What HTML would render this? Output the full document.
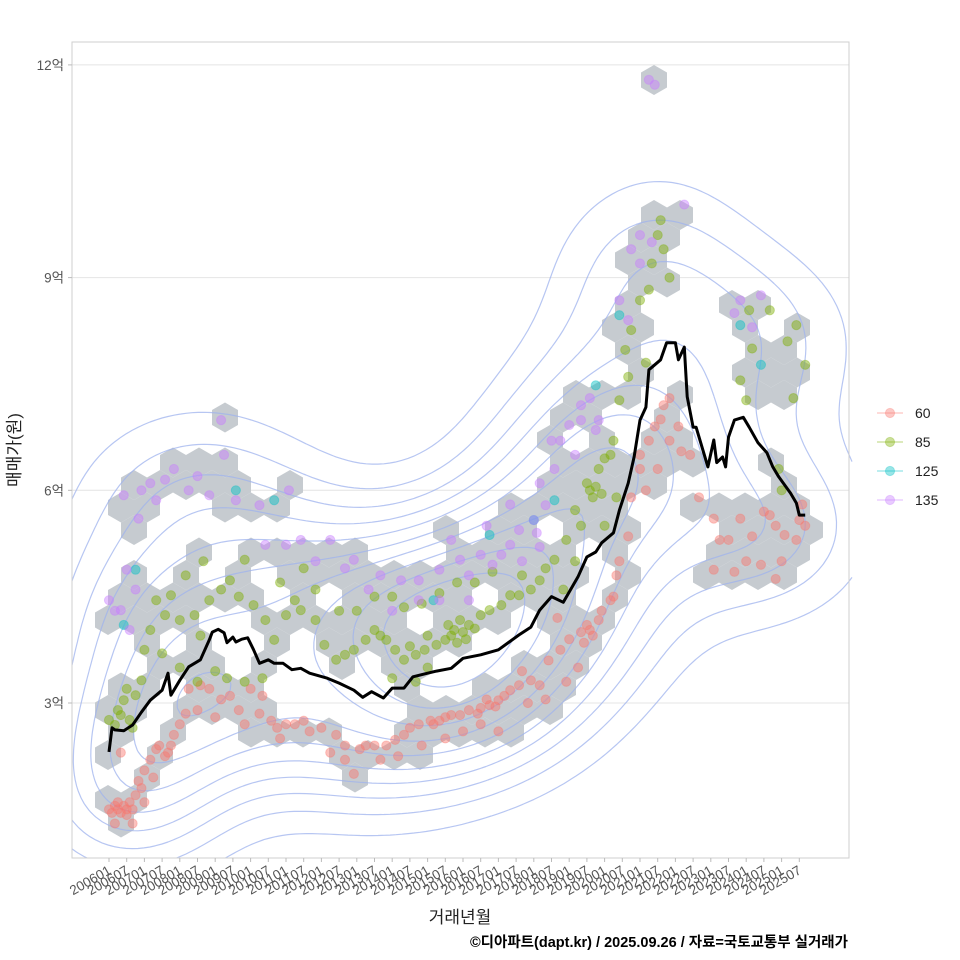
<!DOCTYPE html>
<html><head><meta charset="utf-8"><style>
html,body{margin:0;padding:0;background:#fff;}
svg{display:block;font-family:"Liberation Sans","Noto Sans CJK KR",sans-serif;}
</style></head><body>
<svg id="chart" width="960" height="960" viewBox="0 0 960 960">
<rect x="0" y="0" width="960" height="960" fill="#fff"/>
<g id="grid"></g>
<g id="hexes"></g>
<g id="contours"></g>
<g id="points"></g>
<g id="line"></g>
<rect x="72" y="42" width="777" height="816" fill="none" stroke="#cfcfcf" stroke-width="1"/>
<g id="yaxis"></g>
<g id="xaxis"></g>
<text x="20" y="450" transform="rotate(-90 20 450)" text-anchor="middle" font-size="17" fill="#222">매매가(원)</text>
<text x="460" y="923" text-anchor="middle" font-size="17" fill="#222">거래년월</text>
<text x="848" y="947" text-anchor="end" font-size="14.5" font-weight="bold" fill="#000">©디아파트(dapt.kr) / 2025.09.26 / 자료=국토교통부 실거래가</text>
<g id="legend"></g>
</svg>
<script>
// ---- data ----
const yTicks = [3, 6, 9, 12];
const yTickLabels = ["3억", "6억", "9억", "12억"];
const xTickMonths = [];
const xTickLabels = [];
for (let y = 2006; y <= 2025; y++) { xTickLabels.push(y + "01"); xTickLabels.push(y + "07"); }
for (let i = 0; i < 40; i++) xTickMonths.push(i * 6);
const lineMonths = [0,1,2,5,8,11,14,18,20,21,24,27,31,34,35,37,39,40,42,43,45,47,49,51,54,56,59,62,65,68,74,78,83,86,89,93,96,100,103,108,111,116,120,126,132,139,143,146,150,154,159,162,165,167,171,173,176,178,180,182,183,187,189,192,193,195,196,198,199,201,203,205,206,208,209,210,212,215,217,220,223,225,227,231,233,234,236];
const lineValues = [2.31,2.65,2.62,2.61,2.69,2.87,3.04,3.18,3.42,3.11,3.32,3.51,3.61,3.89,4.00,4.04,3.99,3.85,3.93,3.86,3.90,3.92,3.75,3.56,3.61,3.56,3.56,3.47,3.49,3.42,3.35,3.28,3.18,3.08,3.16,3.07,3.21,3.21,3.37,3.42,3.45,3.49,3.63,3.68,3.75,3.96,4.07,4.31,4.50,4.42,4.78,5.06,5.13,5.26,5.40,5.72,6.10,6.47,6.99,7.17,7.70,7.84,8.08,8.08,7.84,8.02,7.32,6.89,6.89,6.61,6.33,6.71,6.39,6.47,6.33,6.75,6.99,7.03,6.89,6.67,6.53,6.33,6.19,5.96,5.82,5.65,5.65];
const s60 = [[0,1.5],[1,1.45],[2,1.55],[3,1.5],[4,1.45],[5,1.55],[6,1.5],[7,1.6],[8,1.5],[3,1.6],[6,1.42],[9,1.7],[10,1.9],[12,2.05],[14,2.2],[16,2.35],[17,2.4],[19,2.25],[21,2.4],[22,2.55],[24,2.7],[26,2.85],[27,3.2],[31,3.25],[34,3.2],[38,3.05],[41,3.1],[44,2.9],[48,3.2],[51,2.85],[55,2.75],[60,2.7],[63,2.7],[66,2.75],[72,2.65],[77,2.55],[80,2.4],[83,2.0],[87,2.4],[90,2.4],[94,2.4],[97,2.48],[102,2.65],[105,2.7],[109,2.75],[112,2.75],[116,2.83],[119,2.83],[122,2.9],[126,2.93],[129,2.97],[132,3.04],[136,3.18],[139,3.25],[143,3.32],[146,3.25],[149,3.6],[153,3.75],[156,3.9],[160,4.0],[163,4.03],[166,4.17],[170,4.45],[171,4.5],[173,5.0],[177,5.9],[180,6.3],[183,6.7],[187,7.0],[188,7.2],[190,6.7],[194,6.55],[197,6.5],[205,5.6],[207,5.3],[214,5.6],[222,5.7],[224,5.65],[226,5.5],[229,5.37],[233,5.3],[234,5.58],[236,5.5],[216,5.0],[221,4.95],[205,4.88],[161,3.85],[164,3.95],[162,4.1],[167,4.3],[128,3.05],[131,2.95],[134,3.1],[125,2.85],[110,2.7],[114,2.8],[100,2.55],[85,2.35],[68,2.6],[57,2.65],[20,2.3],[15,1.95],[11,1.8],[180,6.5],[185,6.9],[200,5.9],
 [2,1.3],[8,1.3],[4,2.3],[12,1.6],[30,2.9],[36,2.8],[46,2.7],[52,3.1],[58,2.5],[75,2.3],[80,2.2],[92,2.2],[98,2.25],[106,2.4],[114,2.5],[120,2.6],[126,2.7],[132,2.6],[142,3.0],[148,3.05],[155,3.3],[159,3.5],[152,4.2],[172,4.8],[176,5.35],[182,6.0],[186,6.3],[193,6.9],[190,7.3],[210,5.3],[218,5.35],[228,5.0],[235,5.8],[212,4.85],[226,4.75],[140,3.45]];
const s85 = [[0,2.76],[2,2.69],[4,2.83],[5,3.04],[7,2.76],[9,3.11],[11,3.32],[12,3.75],[14,4.03],[16,4.45],[19,4.24],[21,4.52],[24,4.17],[29,4.24],[34,4.45],[38,4.6],[41,4.73],[46,5.02],[49,4.38],[53,4.17],[56,3.89],[60,4.24],[63,4.45],[65,4.31],[70,4.17],[73,3.82],[77,3.61],[80,3.68],[83,3.75],[87,3.89],[90,4.03],[94,3.89],[97,3.75],[100,3.61],[104,3.68],[107,3.75],[111,3.82],[114,3.89],[117,4.03],[119,4.17],[122,4.1],[126,4.24],[129,4.31],[133,4.38],[136,4.52],[139,4.52],[143,4.6],[146,4.73],[151,5.02],[155,5.3],[158,5.72],[163,6.0],[166,6.3],[170,6.5],[171,6.7],[173,7.27],[175,7.98],[177,8.26],[180,8.68],[183,8.83],[187,9.81],[188,9.4],[214,7.55],[216,7.27],[217,8.54],[224,8.54],[233,8.33],[236,7.77],[227,6.3],[116,3.95],[118,3.85],[120,4.0],[121,3.9],[124,4.05],[115,4.1],[164,5.9],[165,6.05],[167,5.95],[162,6.1],[3,2.9],[6,3.2],[8,2.65],[31,3.95],[44,4.5],[92,3.95],[102,3.8],[108,3.95],[140,4.8],[148,4.9],[168,6.45],
 [18,3.7],[24,3.5],[30,3.3],[36,3.45],[40,3.35],[46,3.3],[52,3.35],[26,4.8],[32,5.0],[58,4.7],[66,4.9],[70,4.6],[78,4.3],[84,4.3],[90,4.5],[96,4.5],[100,4.35],[106,4.4],[112,4.55],[118,4.7],[124,4.7],[130,4.85],[96,3.35],[104,3.3],[108,3.5],[154,4.6],[158,5.0],[160,5.5],[168,5.5],[172,5.9],[176,7.6],[182,7.8],[184,9.2],[186,9.6],[190,9.0],[230,8.1],[232,7.3],[218,8.0],[228,6.0]];
const s125 = [[5,4.1],[9,4.88],[43,6.0],[56,5.86],[110,4.45],[129,5.37],[144,5.58],[151,5.86],[165,7.48],[173,8.47],[214,8.33],[221,7.77]];
const s135 = [[0,4.45],[4,4.31],[6,4.88],[9,4.6],[7,4.03],[5,5.93],[11,6.0],[16,5.86],[19,6.15],[22,6.3],[27,6.0],[34,5.93],[38,6.99],[39,6.5],[43,5.86],[51,5.79],[53,5.23],[60,5.23],[61,6.0],[65,5.3],[75,5.3],[83,5.02],[92,4.8],[99,4.73],[105,4.73],[112,4.88],[119,5.02],[122,4.8],[126,5.09],[133,5.09],[136,5.23],[139,5.44],[144,5.58],[148,5.79],[151,6.3],[153,6.7],[156,6.92],[160,6.99],[165,6.85],[166,6.99],[173,8.68],[177,9.4],[180,9.6],[183,11.79],[185,11.72],[195,10.03],[214,8.68],[221,8.75],[122,4.45],[112,4.45],[105,4.45],[14,6.1],[130,4.95],[145,5.4],[158,6.5],[2,4.3],
 [70,5.0],[80,4.9],[88,4.6],[96,4.3],[116,5.3],[128,5.5],[136,5.8],[146,6.1],[150,6.7],[160,7.2],[163,7.3],[176,8.4],[180,9.2],[184,9.5],[212,8.5],[218,8.3],[30,6.2],[10,5.6],[146,5.2],[140,5.0]];

// ---- scales ----
function xs(m){ return 109 + m * 2.95; }
function ys(v){ return 703 - (v - 3) * 70.9; }
const NS = "http://www.w3.org/2000/svg";
function mk(tag, attrs, parent){ const e = document.createElementNS(NS, tag); for (const k in attrs) e.setAttribute(k, attrs[k]); parent.appendChild(e); return e; }

// grid + y axis
const gGrid = document.getElementById("grid"), gY = document.getElementById("yaxis");
yTicks.forEach((v, i) => {
  const gl = mk("line", {x1:72, x2:849, y1:ys(v), y2:ys(v), stroke:"#e4e4e4", "stroke-width":1}, gGrid);
  
  
  const tk = mk("line", {x1:68, x2:72, y1:ys(v), y2:ys(v), stroke:"#bbb"}, gY);
  
  
  const t = mk("text", {x:64, y:ys(v)+5, "text-anchor":"end", "font-size":13.5, fill:"#555"}, gY);
  t.textContent = yTickLabels[i];
  
  
});
// x axis
const gX = document.getElementById("xaxis");
xTickMonths.forEach((m, i) => {
  const x = xs(m);
  const tk = mk("line", {x1:x, x2:x, y1:858, y2:862, stroke:"#bbb"}, gX);
  
  
  const t = mk("text", {x:x+3, y:873, "text-anchor":"end", "font-size":13.5, fill:"#555", transform:"rotate(-30 "+(x+3)+" 873)"}, gX);
  t.textContent = xTickLabels[i];
  
  
});

// hexbin from all points
const all = [].concat(s60, s85, s125, s135);
const W = 26, R = 15, H = 22.5, X0 = 108, Y0 = 800;
const cells = {};
all.forEach(p => {
  const px = xs(p[0]), py = ys(p[1]);
  const j1 = Math.round((Y0 - py) / (2*H)), i1 = Math.round((px - X0) / W);
  const ax = X0 + i1*W, ay = Y0 - j1*2*H;
  const j2 = Math.round((Y0 - H - py) / (2*H)), i2 = Math.round((px - X0 - W/2) / W);
  const bx = X0 + W/2 + i2*W, by = Y0 - H - j2*2*H;
  const da = (px-ax)**2 + (py-ay)**2, db = (px-bx)**2 + (py-by)**2;
  const c = da <= db ? [ax, ay] : [bx, by];
  cells[c[0].toFixed(1)+","+c[1].toFixed(1)] = c;
});
const gH = document.getElementById("hexes");
Object.values(cells).forEach(c => {
  const [cx, cy] = c, w2 = W/2;
  const d = `M${cx},${cy-R}L${cx+w2},${cy-R/2}L${cx+w2},${cy+R/2}L${cx},${cy+R}L${cx-w2},${cy+R/2}L${cx-w2},${cy-R/2}Z`;
  const h = mk("path", {d:d, fill:"#c6cbd0"}, gH);
  
  
});

// KDE contours (marching squares)
(function(){
  const step = 6, x0 = 72, y0 = 42, nx = Math.ceil(777/step)+1, ny = Math.ceil(816/step)+1;
  const sx = 70, sy = 58;
  const pts = all.map(p => [xs(p[0]), ys(p[1])]);
  const G = [];
  let mx = 0;
  for (let j = 0; j < ny; j++) { const row = []; for (let i = 0; i < nx; i++) {
    const gx = x0 + i*step, gy = y0 + j*step; let s = 0;
    for (const p of pts) { const dx = (gx-p[0])/sx, dy = (gy-p[1])/sy; const e = dx*dx+dy*dy; if (e < 14) s += Math.exp(-0.5*e); }
    row.push(s); if (s > mx) mx = s; } G.push(row); }
  const levels = []; for (let k = 1; k <= 10; k++) levels.push(mx * (0.12 + 0.085*(k-1)));
  let d = "";
  const lerp = (a, b, l) => (l - a) / (b - a);
  levels.forEach(L => {
    for (let j = 0; j < ny-1; j++) for (let i = 0; i < nx-1; i++) {
      const a = G[j][i], b = G[j][i+1], c = G[j+1][i+1], e = G[j+1][i];
      const X = x0 + i*step, Y = y0 + j*step;
      const ed = [];
      if ((a<L)!==(b<L)) ed.push([X+step*lerp(a,b,L), Y]);
      if ((b<L)!==(c<L)) ed.push([X+step, Y+step*lerp(b,c,L)]);
      if ((e<L)!==(c<L)) ed.push([X+step*lerp(e,c,L), Y+step]);
      if ((a<L)!==(e<L)) ed.push([X, Y+step*lerp(a,e,L)]);
      for (let k = 0; k+1 < ed.length; k += 2) d += `M${ed[k][0].toFixed(1)},${ed[k][1].toFixed(1)}L${ed[k+1][0].toFixed(1)},${ed[k+1][1].toFixed(1)}`;
    }
  });
  const cp = mk("path", {d:d, fill:"none", stroke:"#9fb3ee", "stroke-opacity":0.75, "stroke-width":1.2}, document.getElementById("contours"));
  
  
})();

// points
const gP = document.getElementById("points");
const series = [[s60, "#F8766D", "60"], [s85, "#7CAE00", "85"], [s125, "#00BFC4", "125"], [s135, "#C77CFF", "135"]];
series.forEach(s => {
  s[0].forEach(p => {
    const c = mk("circle", {cx:xs(p[0]), cy:ys(p[1]), r:4.6, fill:s[1], "fill-opacity":0.45, stroke:s[1], "stroke-opacity":0.35}, gP);
    
    
  });
});

// median line
const lp = mk("path", {d: lineMonths.map((m, i) => (i ? "L" : "M") + xs(m).toFixed(1) + "," + ys(lineValues[i]).toFixed(1)).join(""), fill:"none", stroke:"#000", "stroke-width":3, "stroke-linejoin":"round"}, document.getElementById("line"));



// legend
const gL = document.getElementById("legend");
series.forEach((s, i) => {
  const y = 413 + i*29;
  const g = mk("g", {}, gL);
  
  
  mk("line", {x1:877, x2:903, y1:y, y2:y, stroke:s[1], "stroke-opacity":0.35, "stroke-width":1.5}, g);
  mk("circle", {cx:890, cy:y, r:4.6, fill:s[1], "fill-opacity":0.4, stroke:s[1], "stroke-opacity":0.3}, g);
  const t = mk("text", {x:915, y:y+5, "font-size":14, fill:"#222"}, g);
  t.textContent = s[2];
});
</script>
</body></html>
